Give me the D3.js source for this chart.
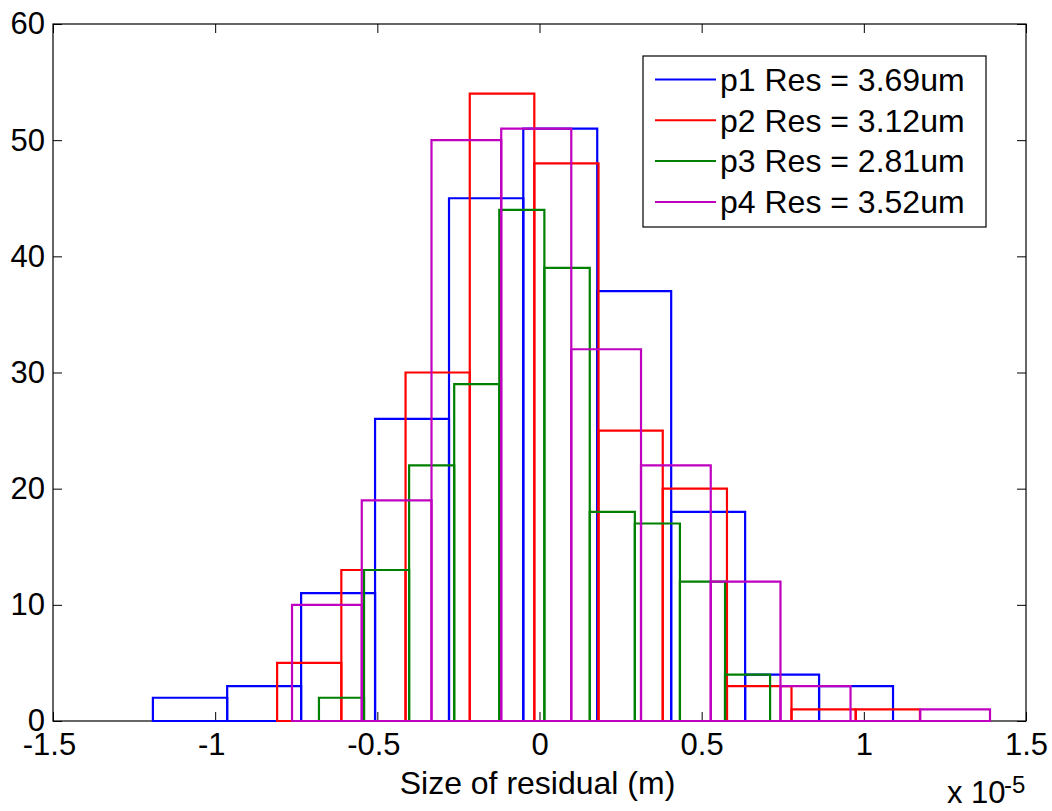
<!DOCTYPE html>
<html>
<head>
<meta charset="utf-8">
<script src="https://cdn.jsdelivr.net/npm/d3@7"></script>
<style>
  body { margin: 0; background: #fff; }
  svg text { font-family: "Liberation Sans", Arial, sans-serif; fill: #000; }
</style>
</head>
<body>
<svg id="chart"></svg>
<script>
// Histogram counts per series (10 bins each), x in units of 1e-5 m
const p1Edges = [-1.192, -0.963, -0.735, -0.507, -0.279, -0.050, 0.178, 0.406, 0.634, 0.862, 1.090];
const p1Counts = [2, 3, 11, 26, 45, 51, 37, 18, 4, 3];

const p2Edges = [-0.809, -0.611, -0.413, -0.215, -0.016, 0.182, 0.380, 0.578, 0.777, 0.975, 1.173];
const p2Counts = [5, 13, 30, 54, 48, 25, 20, 3, 1, 1];

const p3Edges = [-0.680, -0.541, -0.402, -0.263, -0.124, 0.015, 0.155, 0.294, 0.433, 0.572, 0.711];
const p3Counts = [2, 13, 22, 29, 44, 39, 18, 17, 12, 4];

const p4Edges = [-0.763, -0.548, -0.333, -0.118, 0.098, 0.313, 0.528, 0.743, 0.959, 1.174, 1.389];
const p4Counts = [10, 19, 50, 51, 32, 22, 12, 3, 0, 1];

const seriesNames = ["p1 Res = 3.69um", "p2 Res = 3.12um", "p3 Res = 2.81um", "p4 Res = 3.52um"];
const seriesColors = ["#0000ff", "#ff0000", "#008000", "#bf00bf"];

const xTicks = [-1.5, -1, -0.5, 0, 0.5, 1, 1.5];
const xTickLabels = ["-1.5", "-1", "-0.5", "0", "0.5", "1", "1.5"];
const yTicks = [0, 10, 20, 30, 40, 50, 60];

const series = [
  { name: seriesNames[0], color: seriesColors[0], edges: p1Edges, counts: p1Counts },
  { name: seriesNames[1], color: seriesColors[1], edges: p2Edges, counts: p2Counts },
  { name: seriesNames[2], color: seriesColors[2], edges: p3Edges, counts: p3Counts },
  { name: seriesNames[3], color: seriesColors[3], edges: p4Edges, counts: p4Counts }
];

// Layout
const W = 1052, H = 811;
const margin = { top: 24, right: 26, bottom: 90, left: 53 };
const width = W - margin.left - margin.right;
const height = H - margin.top - margin.bottom;
const fontSize = 31;

const svg = d3.select("#chart").attr("width", W).attr("height", H);
const g = svg.append("g").attr("transform", "translate(" + margin.left + "," + margin.top + ")");

const x = d3.scaleLinear().domain([-1.5, 1.5]).range([0, width]);
const y = d3.scaleLinear().domain([0, 60]).range([height, 0]);

// Axes (ticks pointing inward on all four sides)
const xAxis = g.append("g")
  .attr("transform", "translate(0," + height + ")")
  .call(d3.axisBottom(x).tickValues(xTicks).tickSizeInner(-9).tickSizeOuter(0).tickPadding(12)
    .tickFormat((d, i) => xTickLabels[i]));
xAxis.selectAll("text").attr("dx", d => d < 0 ? -4 : 0);

g.append("g")
  .call(d3.axisTop(x).tickValues(xTicks).tickSizeInner(-9).tickSizeOuter(0).tickFormat(""));

g.append("g")
  .call(d3.axisLeft(y).tickValues(yTicks).tickSizeInner(-9).tickSizeOuter(0).tickPadding(8));

g.append("g")
  .attr("transform", "translate(" + width + ",0)")
  .call(d3.axisRight(y).tickValues(yTicks).tickSizeInner(-9).tickSizeOuter(0).tickFormat(""));

g.selectAll(".domain").remove();
g.selectAll(".tick line").attr("stroke", "#000");
g.selectAll(".tick text").attr("font-size", fontSize).attr("font-family", null);

// Box
g.append("rect")
  .attr("width", width).attr("height", height)
  .attr("fill", "none").attr("stroke", "#000").attr("stroke-width", 1.2);

// Histogram bars as outlined rectangles
series.forEach(s => {
  g.append("g").selectAll("path")
    .data(s.counts)
    .enter().append("path")
    .attr("d", (c, i) => {
      const x0 = x(s.edges[i]), x1 = x(s.edges[i + 1]);
      return "M" + x0 + "," + y(0) + "V" + y(c) + "H" + x1 + "V" + y(0) + "Z";
    })
    .attr("fill", "none")
    .attr("stroke", s.color)
    .attr("stroke-width", 2.2);
});

// Axis label and exponent
g.append("text")
  .attr("x", x(0) - 2).attr("y", height + 73)
  .attr("text-anchor", "middle")
  .attr("font-size", 32)
  .text("Size of residual (m)");

g.append("text")
  .attr("x", 894).attr("y", height + 82)
  .attr("font-size", fontSize)
  .text("x 10");
g.append("text")
  .attr("x", 951).attr("y", height + 72)
  .attr("font-size", 24)
  .text("-5");

// Legend
const legend = g.append("g").attr("transform", "translate(590,32)");
legend.append("rect")
  .attr("width", 343).attr("height", 171)
  .attr("fill", "#fff").attr("stroke", "#000").attr("stroke-width", 1.2);

const rows = legend.selectAll(".row")
  .data(series)
  .enter().append("g")
  .attr("class", "row")
  .attr("transform", (d, i) => "translate(0," + (23.5 + i * 40.8) + ")");

rows.append("line")
  .attr("x1", 12).attr("x2", 73)
  .attr("stroke", d => d.color).attr("stroke-width", 2);

rows.append("text")
  .attr("x", 77).attr("dy", "0.35em")
  .attr("font-size", 32)
  .text(d => d.name);
</script>
</body>
</html>
